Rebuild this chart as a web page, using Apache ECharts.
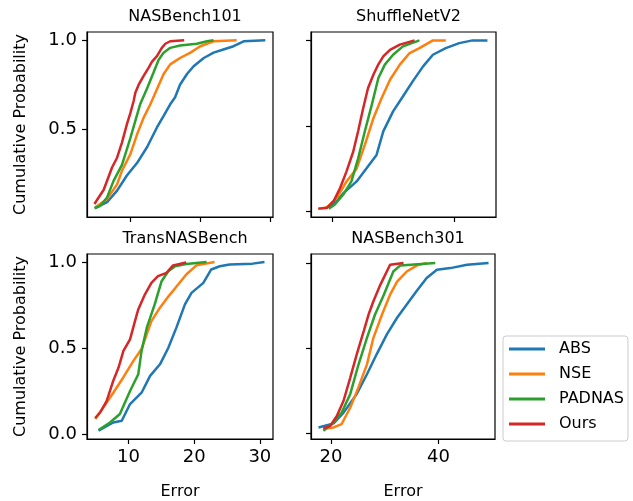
<!DOCTYPE html>
<html>
<head>
<meta charset="utf-8">
<script src="https://cdn.jsdelivr.net/npm/echarts@6/dist/echarts.min.js"></script>
<style>
  html, body { margin: 0; padding: 0; background: #fff; }
  #chart { width: 633px; height: 501px; }
</style>
</head>
<body>
<div id="chart"></div>
<script>
// panel titles and legend names
var panels = ['NASBench101', 'ShuffleNetV2', 'TransNASBench', 'NASBench301']
var methods = ['ABS', 'NSE', 'PADNAS', 'Ours']
var colors = ['#1f77b4', '#ff7f0e', '#2ca02c', '#d62728']

// [error, cumulative probability]
var nb101_abs = [[5.0,0.058],[6.67,0.09],[8.1,0.155],[9.5,0.24],[10.95,0.31],[12.4,0.40],[13.8,0.51],[14.76,0.575],[15.7,0.64],[16.4,0.68],[17.1,0.75],[18.1,0.81],[19.05,0.854],[20.5,0.90],[21.9,0.93],[23.3,0.948],[24.76,0.966],[26.2,0.994],[29.3,1.0]]
var nb101_nse = [[5.0,0.062],[6.67,0.108],[8.1,0.19],[8.8,0.267],[10.0,0.36],[10.95,0.47],[11.9,0.565],[12.86,0.64],[13.8,0.724],[14.76,0.81],[15.7,0.864],[17.1,0.90],[18.6,0.93],[20.0,0.966],[21.9,0.994],[25.2,1.0]]
var nb101_padnas = [[4.86,0.056],[5.7,0.07],[6.67,0.117],[7.6,0.21],[8.8,0.30],[10.0,0.45],[10.7,0.545],[11.4,0.64],[12.4,0.73],[13.3,0.817],[14.05,0.89],[14.76,0.93],[15.7,0.957],[17.1,0.97],[19.5,0.98],[20.95,0.994],[21.9,1.0]]
var nb101_ours = [[4.86,0.08],[6.19,0.16],[7.38,0.285],[8.1,0.34],[8.8,0.425],[9.52,0.53],[10.0,0.59],[10.48,0.66],[10.71,0.705],[11.19,0.75],[11.9,0.80],[12.6,0.845],[13.1,0.88],[13.8,0.91],[14.5,0.957],[15.0,0.98],[15.7,0.994],[17.7,1.0]]

var snv2_abs = [[18.9,0.02],[20.3,0.04],[21.9,0.107],[24.05,0.175],[25.7,0.253],[27.3,0.33],[28.4,0.468],[30.0,0.585],[31.6,0.672],[33.2,0.76],[34.9,0.848],[36.5,0.916],[38.6,0.955],[40.8,0.984],[42.97,1.0],[45.4,1.0]]
var snv2_nse = [[17.8,0.016],[19.2,0.023],[20.8,0.078],[22.4,0.175],[24.05,0.25],[25.4,0.39],[26.8,0.546],[28.1,0.66],[29.5,0.77],[31.1,0.858],[32.7,0.926],[34.3,0.955],[36.5,1.0],[38.6,1.0]]
var snv2_padnas = [[19.5,0.016],[20.5,0.04],[21.9,0.10],[23.2,0.175],[24.3,0.31],[25.4,0.47],[26.5,0.62],[27.6,0.78],[28.65,0.858],[30.0,0.916],[31.6,0.965],[34.3,1.0]]
var snv2_ours = [[17.8,0.016],[19.2,0.02],[20.3,0.06],[21.35,0.137],[22.4,0.234],[23.5,0.35],[24.3,0.47],[25.1,0.60],[25.9,0.72],[26.8,0.80],[27.6,0.86],[28.4,0.906],[29.5,0.945],[31.1,0.975],[33.5,1.0]]

var tnb_abs = [[5.45,0.02],[7.7,0.067],[8.99,0.077],[10.25,0.174],[12.0,0.24],[13.3,0.338],[14.8,0.405],[16.06,0.50],[17.3,0.618],[18.6,0.753],[19.6,0.82],[21.4,0.878],[22.6,0.956],[23.9,0.975],[25.4,0.985],[28.9,0.99],[30.7,1.0]]
var tnb_nse = [[4.95,0.087],[6.2,0.155],[7.7,0.24],[9.24,0.33],[10.76,0.425],[12.0,0.494],[12.8,0.58],[13.5,0.656],[14.8,0.734],[16.1,0.80],[17.6,0.87],[18.8,0.927],[20.35,0.98],[23.1,1.0]]
var tnb_padnas = [[5.45,0.023],[7.2,0.067],[8.7,0.116],[10.25,0.25],[11.5,0.347],[12.0,0.483],[12.8,0.618],[14.0,0.753],[15.05,0.888],[16.06,0.946],[17.1,0.975],[18.8,0.988],[21.9,1.0]]
var tnb_ours = [[4.95,0.093],[5.7,0.125],[6.7,0.193],[7.7,0.31],[8.5,0.386],[9.24,0.483],[10.25,0.55],[11.0,0.656],[11.5,0.724],[12.5,0.81],[13.5,0.878],[14.5,0.917],[15.8,0.936],[16.8,0.98],[18.8,0.997]]

var nb301_abs = [[17.7,0.033],[20.5,0.057],[22.35,0.12],[24.8,0.23],[26.7,0.346],[28.5,0.463],[30.4,0.58],[32.3,0.678],[34.1,0.756],[35.9,0.834],[37.8,0.912],[39.7,0.96],[42.2,0.97],[45.3,0.99],[49.3,1.0]]
var nb301_nse = [[18.6,0.023],[20.5,0.033],[22.0,0.053],[23.6,0.15],[25.1,0.267],[26.7,0.404],[27.9,0.56],[29.5,0.697],[31.0,0.814],[32.3,0.89],[34.1,0.95],[36.0,0.986],[37.8,1.0]]
var nb301_padnas = [[18.6,0.014],[20.5,0.0625],[22.0,0.12],[23.6,0.23],[25.1,0.40],[26.7,0.56],[28.2,0.697],[29.8,0.81],[31.6,0.95],[32.9,0.986],[39.4,1.0]]
var nb301_ours = [[18.6,0.027],[19.9,0.043],[21.1,0.10],[22.35,0.19],[23.6,0.326],[24.8,0.463],[26.1,0.60],[27.0,0.697],[27.9,0.775],[29.2,0.873],[31.0,0.99],[33.5,1.0]]

var panelData = [
  [nb101_abs, nb101_nse, nb101_padnas, nb101_ours],
  [snv2_abs, snv2_nse, snv2_padnas, snv2_ours],
  [tnb_abs, tnb_nse, tnb_padnas, tnb_ours],
  [nb301_abs, nb301_nse, nb301_padnas, nb301_ours]
]

// tick values
var xTicksLeft = [10, 20, 30]
var xTicksRight = [20, 40]
var yTicks = [0, 0.5, 1]

var grids = [
  { left: 87, top: 32, width: 186, height: 185 },
  { left: 311, top: 32, width: 185, height: 185 },
  { left: 87, top: 254, width: 186, height: 186 },
  { left: 311, top: 254, width: 184, height: 186 }
]
var xRanges = [[3.8, 30.4], [16.6, 46.8], [3.7, 32.0], [16.3, 50.5]]
var yRanges = [[0.007, 1.046], [-0.033, 1.049], [-0.029, 1.046], [-0.035, 1.053]]

var font = 'DejaVu Sans'
var chart = echarts.init(document.getElementById('chart'))

var xAxes = [], yAxes = [], series = [], titles = []
for (var i = 0; i < 4; i++) {
  var isLeft = i % 2 === 0
  var isBottom = i >= 2
  var xt = isLeft ? xTicksLeft : xTicksRight
  xAxes.push({
    type: 'value', gridIndex: i, min: xRanges[i][0], max: xRanges[i][1],
    name: isBottom ? 'Error' : '', nameLocation: 'middle', nameGap: 45,
    nameTextStyle: { fontFamily: font, fontSize: 16, color: '#000' },
    axisLine: { show: true, onZero: false, lineStyle: { color: '#000', width: 1.2 } },
    axisTick: { show: true, length: 5, customValues: xt, lineStyle: { color: '#000', width: 1.2 } },
    axisLabel: { show: isBottom, customValues: xt, margin: 9, fontFamily: font, fontSize: 18, color: '#000' },
    splitLine: { show: false }
  })
  yAxes.push({
    type: 'value', gridIndex: i, min: yRanges[i][0], max: yRanges[i][1],
    name: isLeft ? 'Cumulative Probability' : '', nameLocation: 'middle', nameGap: 58,
    nameTextStyle: { fontFamily: font, fontSize: 16, color: '#000' },
    axisLine: { show: true, onZero: false, lineStyle: { color: '#000', width: 1.2 } },
    axisTick: { show: true, length: 5, customValues: yTicks, lineStyle: { color: '#000', width: 1.2 } },
    axisLabel: {
      show: isLeft, customValues: yTicks, margin: 10, fontFamily: font, fontSize: 18, color: '#000',
      formatter: function (v) { return v.toFixed(1) }
    },
    splitLine: { show: false }
  })
  titles.push({
    text: panels[i],
    left: grids[i].left + grids[i].width / 2, top: grids[i].top - 28,
    textAlign: 'center',
    textStyle: { fontFamily: font, fontSize: 16, fontWeight: 'normal', color: '#000' }
  })
  for (var k = 0; k < 4; k++) {
    series.push({
      name: methods[k], type: 'line', xAxisIndex: i, yAxisIndex: i,
      data: panelData[i][k], showSymbol: false, symbol: 'none',
      color: colors[k], lineStyle: { width: 2.5, color: colors[k] },
      z: 2 + k, animation: false
    })
  }
}

chart.setOption({
  animation: false,
  title: titles,
  grid: grids.map(function (g) {
    return Object.assign({ show: true, borderColor: '#000', borderWidth: 1.2, backgroundColor: 'transparent' }, g)
  }),
  xAxis: xAxes,
  yAxis: yAxes,
  legend: {
    data: methods, orient: 'vertical', left: 503, top: 336,
    icon: 'rect', itemWidth: 36, itemHeight: 3, itemGap: 9,
    padding: [5, 4, 9, 6],
    borderColor: '#cccccc', borderWidth: 1, borderRadius: 3,
    textStyle: { fontFamily: font, fontSize: 16, color: '#000', padding: [0, 0, 0, 9] }
  },
  series: series
})
</script>
</body>
</html>
